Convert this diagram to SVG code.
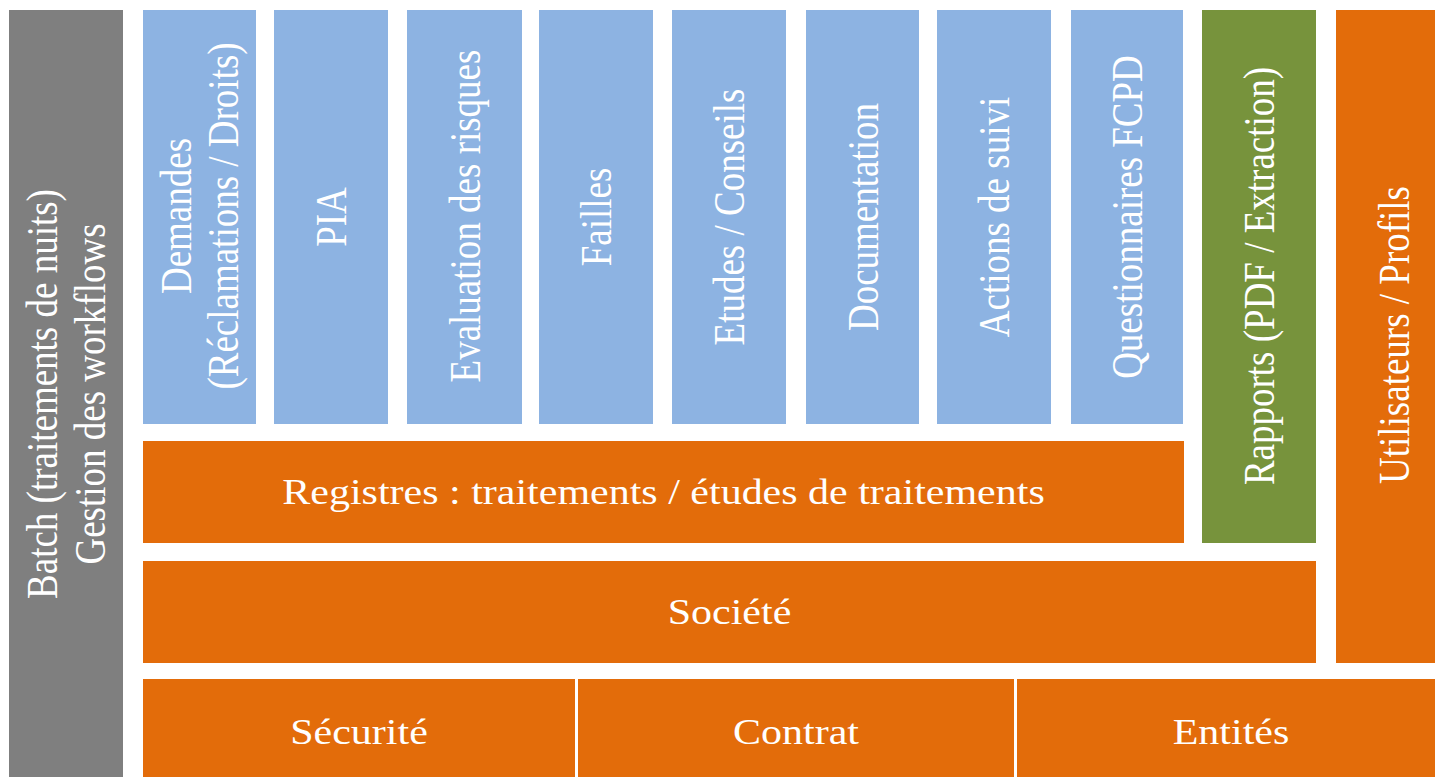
<svg xmlns="http://www.w3.org/2000/svg" width="1435" height="777" viewBox="0 0 1435 777">
<style>
.blue{fill:#8DB3E2}
.orange{fill:#E36C0A}
.green{fill:#77933C}
.gray{fill:#7F7F7F}
text{font-family:"Liberation Serif","Times New Roman",serif;fill:#FFFFFF;text-anchor:middle}
.v{font-size:37px}
.h{font-size:35px}
</style>
<rect width="1435" height="777" fill="#FFFFFF"/>
<g id="batch">
<rect class="gray" x="9" y="10" width="114" height="767"/>
<g transform="translate(66,394) scale(1.2,1) rotate(-90)"><text class="v" x="0" y="-7.5">Batch (traitements de nuits)</text><text class="v" x="0" y="32.5">Gestion des workflows</text></g>
</g>
<g id="demandes">
<rect class="blue" x="143" y="10" width="113" height="414"/>
<g transform="translate(199.5,216) scale(1.2,1) rotate(-90)"><text class="v" x="0" y="-7">Demandes</text><text class="v" x="0" y="32">(Réclamations / Droits)</text></g>
</g>
<g id="pia">
<rect class="blue" x="274" y="10" width="114" height="414"/>
<g transform="translate(331,217) scale(1.2,1) rotate(-90)"><text class="v" x="0" y="12.5">PIA</text></g>
</g>
<g id="evaluation">
<rect class="blue" x="407" y="10" width="115" height="414"/>
<g transform="translate(464.5,216) scale(1.2,1) rotate(-90)"><text class="v" x="0" y="12.5">Evaluation des risques</text></g>
</g>
<g id="failles">
<rect class="blue" x="539" y="10" width="114" height="414"/>
<g transform="translate(596,217) scale(1.2,1) rotate(-90)"><text class="v" x="0" y="12.5">Failles</text></g>
</g>
<g id="etudes">
<rect class="blue" x="672" y="10" width="114" height="414"/>
<g transform="translate(729,217) scale(1.2,1) rotate(-90)"><text class="v" x="0" y="12.5">Etudes / Conseils</text></g>
</g>
<g id="documentation">
<rect class="blue" x="806" y="10" width="113" height="414"/>
<g transform="translate(862.5,217) scale(1.2,1) rotate(-90)"><text class="v" x="0" y="12.5">Documentation</text></g>
</g>
<g id="actions">
<rect class="blue" x="937" y="10" width="114" height="414"/>
<g transform="translate(994,217) scale(1.2,1) rotate(-90)"><text class="v" x="0" y="12.5">Actions de suivi</text></g>
</g>
<g id="questionnaires">
<rect class="blue" x="1071" y="10" width="112" height="414"/>
<g transform="translate(1127,217) scale(1.2,1) rotate(-90)"><text class="v" x="0" y="12.5">Questionnaires FCPD</text></g>
</g>
<g id="rapports">
<rect class="green" x="1202" y="10" width="114" height="533"/>
<g transform="translate(1259,276) scale(1.2,1) rotate(-90)"><text class="v" x="0" y="12.5">Rapports (PDF / Extraction)</text></g>
</g>
<g id="utilisateurs">
<rect class="orange" x="1336" y="10" width="99" height="653"/>
<g transform="translate(1394,335) scale(1.2,1) rotate(-90)"><text class="v" x="0" y="12.5">Utilisateurs / Profils</text></g>
</g>
<g id="registres">
<rect class="orange" x="143" y="441" width="1041" height="102"/>
<g transform="translate(663.5,503.5) scale(1.2,1)"><text class="h" x="0" y="0">Registres : traitements / études de traitements</text></g>
</g>
<g id="societe">
<rect class="orange" x="143" y="561" width="1173" height="102"/>
<g transform="translate(729.5,623.5) scale(1.2,1)"><text class="h" x="0" y="0">Société</text></g>
</g>
<g id="securite">
<rect class="orange" x="143" y="679" width="432" height="98"/>
<g transform="translate(359,743.5) scale(1.2,1)"><text class="h" x="0" y="0">Sécurité</text></g>
</g>
<g id="contrat">
<rect class="orange" x="578" y="679" width="436" height="98"/>
<g transform="translate(796,743.5) scale(1.2,1)"><text class="h" x="0" y="0">Contrat</text></g>
</g>
<g id="entites">
<rect class="orange" x="1017" y="679" width="418" height="98"/>
<g transform="translate(1231,743.5) scale(1.2,1)"><text class="h" x="0" y="0">Entités</text></g>
</g>
<g id="connectors"></g>
</svg>
